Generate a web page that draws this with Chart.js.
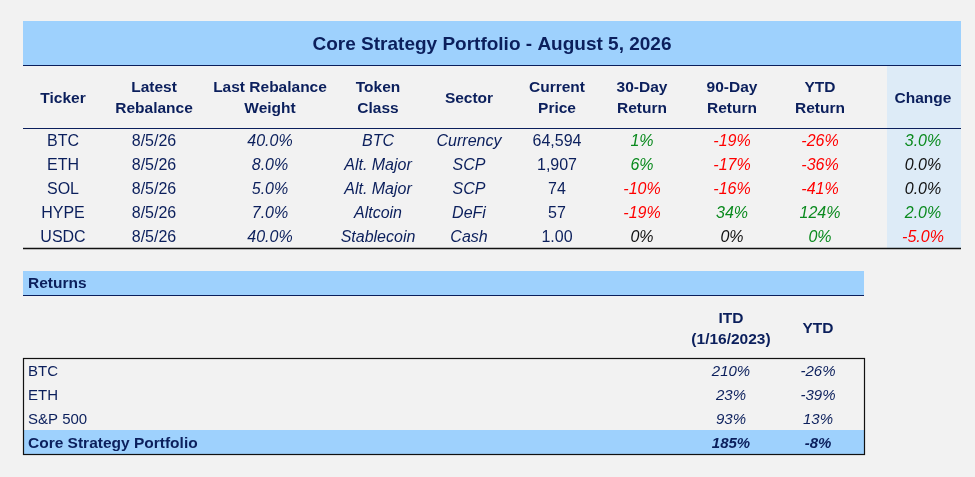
<!DOCTYPE html>
<html>
<head>
<meta charset="utf-8">
<title>Core Strategy Portfolio</title>
<script src="https://cdn.jsdelivr.net/npm/chart.js@4.4.1/dist/chart.umd.min.js"></script>
<style>
  html, body { margin: 0; padding: 0; background: #f2f2f2; }
  #wrap { width: 975px; height: 477px; }
</style>
</head>
<body>
<div id="wrap"><canvas id="portfolio-table" width="975" height="477"></canvas></div>
<script>
// ---- data ----
const tableTitle = 'Core Strategy Portfolio - August 5, 2026';
const headers = [
  ['Ticker'], ['Latest', 'Rebalance'], ['Last Rebalance', 'Weight'], ['Token', 'Class'],
  ['Sector'], ['Current', 'Price'], ['30-Day', 'Return'], ['90-Day', 'Return'],
  ['YTD', 'Return'], ['Change']
];
const tickers = ['BTC', 'ETH', 'SOL', 'HYPE', 'USDC'];
const rebalanceDates = ['8/5/26', '8/5/26', '8/5/26', '8/5/26', '8/5/26'];
const weights = [40.0, 8.0, 5.0, 7.0, 40.0];
const tokenClasses = ['BTC', 'Alt. Major', 'Alt. Major', 'Altcoin', 'Stablecoin'];
const sectors = ['Currency', 'SCP', 'SCP', 'DeFi', 'Cash'];
const prices = [64594, 1907, 74, 57, 1.00];
const return30 = [1, 6, -10, -19, 0];
const return90 = [-19, -17, -16, 34, 0];
const returnYtd = [-26, -36, -41, 124, 0];
const changes = [3.0, 0.0, 0.0, 2.0, -5.0];

const returnsTitle = 'Returns';
const returnsHeaders = [['ITD', '(1/16/2023)'], ['YTD']];
const benchmarks = ['BTC', 'ETH', 'S&P 500', 'Core Strategy Portfolio'];
const itdReturns = [210, 23, 93, 185];
const ytdReturns = [-26, -39, 13, -8];

// ---- colours / fonts ----
const NAVY = '#0b1f5c';
const GREEN = '#0a8a1e';
const RED = '#ff0000';
const BLACK = '#111111';
const BAND = '#9ed1fd';
const CHANGE_BG = '#ddebf7';
const FONT = '"Liberation Sans", Arial, sans-serif';

// ---- layout (in scale units) ----
const tableLeft = 23, tableRight = 961;
const colCenters = [63, 154, 270, 378, 469, 557, 642, 732, 820, 923];
const firstRowY = 141.5, rowStep = 24;
const retRight = 864;
const retCols = [731, 818];
const retRowY = [371.5, 395.5, 419.5, 443.5];

function pct(v, digits) { return v.toFixed(digits) + '%'; }
function signColor(v, zeroColor) {
  if (v > 0) return GREEN;
  if (v < 0) return RED;
  return zeroColor;
}

const columns = [
  { values: tickers, format: v => v, italic: false },
  { values: rebalanceDates, format: v => v, italic: false },
  { values: weights, format: v => pct(v, 1), italic: true },
  { values: tokenClasses, format: v => v, italic: true },
  { values: sectors, format: v => v, italic: true },
  { values: prices, format: v => v >= 10 ? Math.round(v).toLocaleString('en-US') : v.toFixed(2), italic: false },
  { values: return30, format: v => pct(v, 0), italic: true, color: v => signColor(v, BLACK) },
  { values: return90, format: v => pct(v, 0), italic: true, color: v => signColor(v, BLACK) },
  { values: returnYtd, format: v => pct(v, 0), italic: true, color: v => signColor(v, GREEN) },
  { values: changes, format: v => pct(v, 1), italic: true, color: v => signColor(v, BLACK) }
];

const tablePlugin = {
  id: 'tablePlugin',
  afterDraw(chart) {
    const ctx = chart.ctx;
    const xs = chart.scales.x, ys = chart.scales.y;
    const px = v => xs.getPixelForValue(v);
    const py = v => ys.getPixelForValue(v);

    function rect(x0, y0, x1, y1, fill) {
      ctx.fillStyle = fill;
      ctx.fillRect(px(x0), py(y0), px(x1) - px(x0), py(y1) - py(y0));
    }
    function hline(x0, x1, y, color, width) {
      ctx.strokeStyle = color;
      ctx.lineWidth = width;
      ctx.beginPath();
      ctx.moveTo(px(x0), py(y));
      ctx.lineTo(px(x1), py(y));
      ctx.stroke();
    }
    function text(str, x, y, opts) {
      const o = opts || {};
      ctx.font = (o.italic ? 'italic ' : '') + (o.bold ? 'bold ' : '') + (o.size || 16) + 'px ' + FONT;
      ctx.fillStyle = o.color || NAVY;
      ctx.textAlign = o.align || 'center';
      ctx.textBaseline = 'middle';
      ctx.fillText(str, px(x), py(y));
    }

    ctx.save();

    // top table backgrounds
    rect(tableLeft, 21, tableRight, 65, BAND);
    rect(887, 65, tableRight, 248, CHANGE_BG);
    hline(tableLeft, tableRight, 65.5, NAVY, 1.2);
    hline(tableLeft, tableRight, 128.5, NAVY, 1.2);
    hline(tableLeft, tableRight, 248.5, BLACK, 1.6);

    text(tableTitle, (tableLeft + tableRight) / 2, 44.5, { bold: true, size: 19 });

    headers.forEach((lines, i) => {
      if (lines.length === 1) {
        text(lines[0], colCenters[i], 98.5, { bold: true, size: 15.5 });
      } else {
        text(lines[0], colCenters[i], 88, { bold: true, size: 15.5 });
        text(lines[1], colCenters[i], 108.5, { bold: true, size: 15.5 });
      }
    });

    columns.forEach((col, c) => {
      col.values.forEach((v, r) => {
        text(col.format(v), colCenters[c], firstRowY + r * rowStep, {
          italic: col.italic,
          size: 16,
          color: col.color ? col.color(v) : NAVY
        });
      });
    });

    // returns table
    rect(tableLeft, 271, retRight, 295, BAND);
    hline(tableLeft, retRight, 295.5, NAVY, 1.2);
    text(returnsTitle, 28, 284, { bold: true, size: 15.5, align: 'left' });

    text(returnsHeaders[0][0], retCols[0], 318.5, { bold: true, size: 15.5 });
    text(returnsHeaders[0][1], retCols[0], 339.5, { bold: true, size: 15.5 });
    text(returnsHeaders[1][0], retCols[1], 328.5, { bold: true, size: 15.5 });

    const last = benchmarks.length - 1;
    rect(tableLeft, 430, retRight, 454, BAND);
    ctx.strokeStyle = BLACK;
    ctx.lineWidth = 1.2;
    ctx.strokeRect(px(tableLeft) + 0.5, py(358) + 0.5, px(retRight) - px(tableLeft), py(454) - py(358));

    benchmarks.forEach((name, r) => {
      const bold = r === last;
      text(name, 28, retRowY[r], { bold: bold, size: bold ? 15.5 : 15, align: 'left' });
      text(pct(itdReturns[r], 0), retCols[0], retRowY[r], { italic: true, bold: bold, size: 15 });
      text(pct(ytdReturns[r], 0), retCols[1], retRowY[r], { italic: true, bold: bold, size: 15 });
    });

    ctx.restore();
  }
};

new Chart(document.getElementById('portfolio-table'), {
  type: 'scatter',
  data: { datasets: [] },
  options: {
    responsive: false,
    animation: false,
    layout: { padding: 0 },
    plugins: { legend: { display: false }, tooltip: { enabled: false } },
    scales: {
      x: { type: 'linear', min: 0, max: 975, display: false },
      y: { type: 'linear', min: 0, max: 477, reverse: true, display: false }
    }
  },
  plugins: [tablePlugin]
});
</script>
</body>
</html>
